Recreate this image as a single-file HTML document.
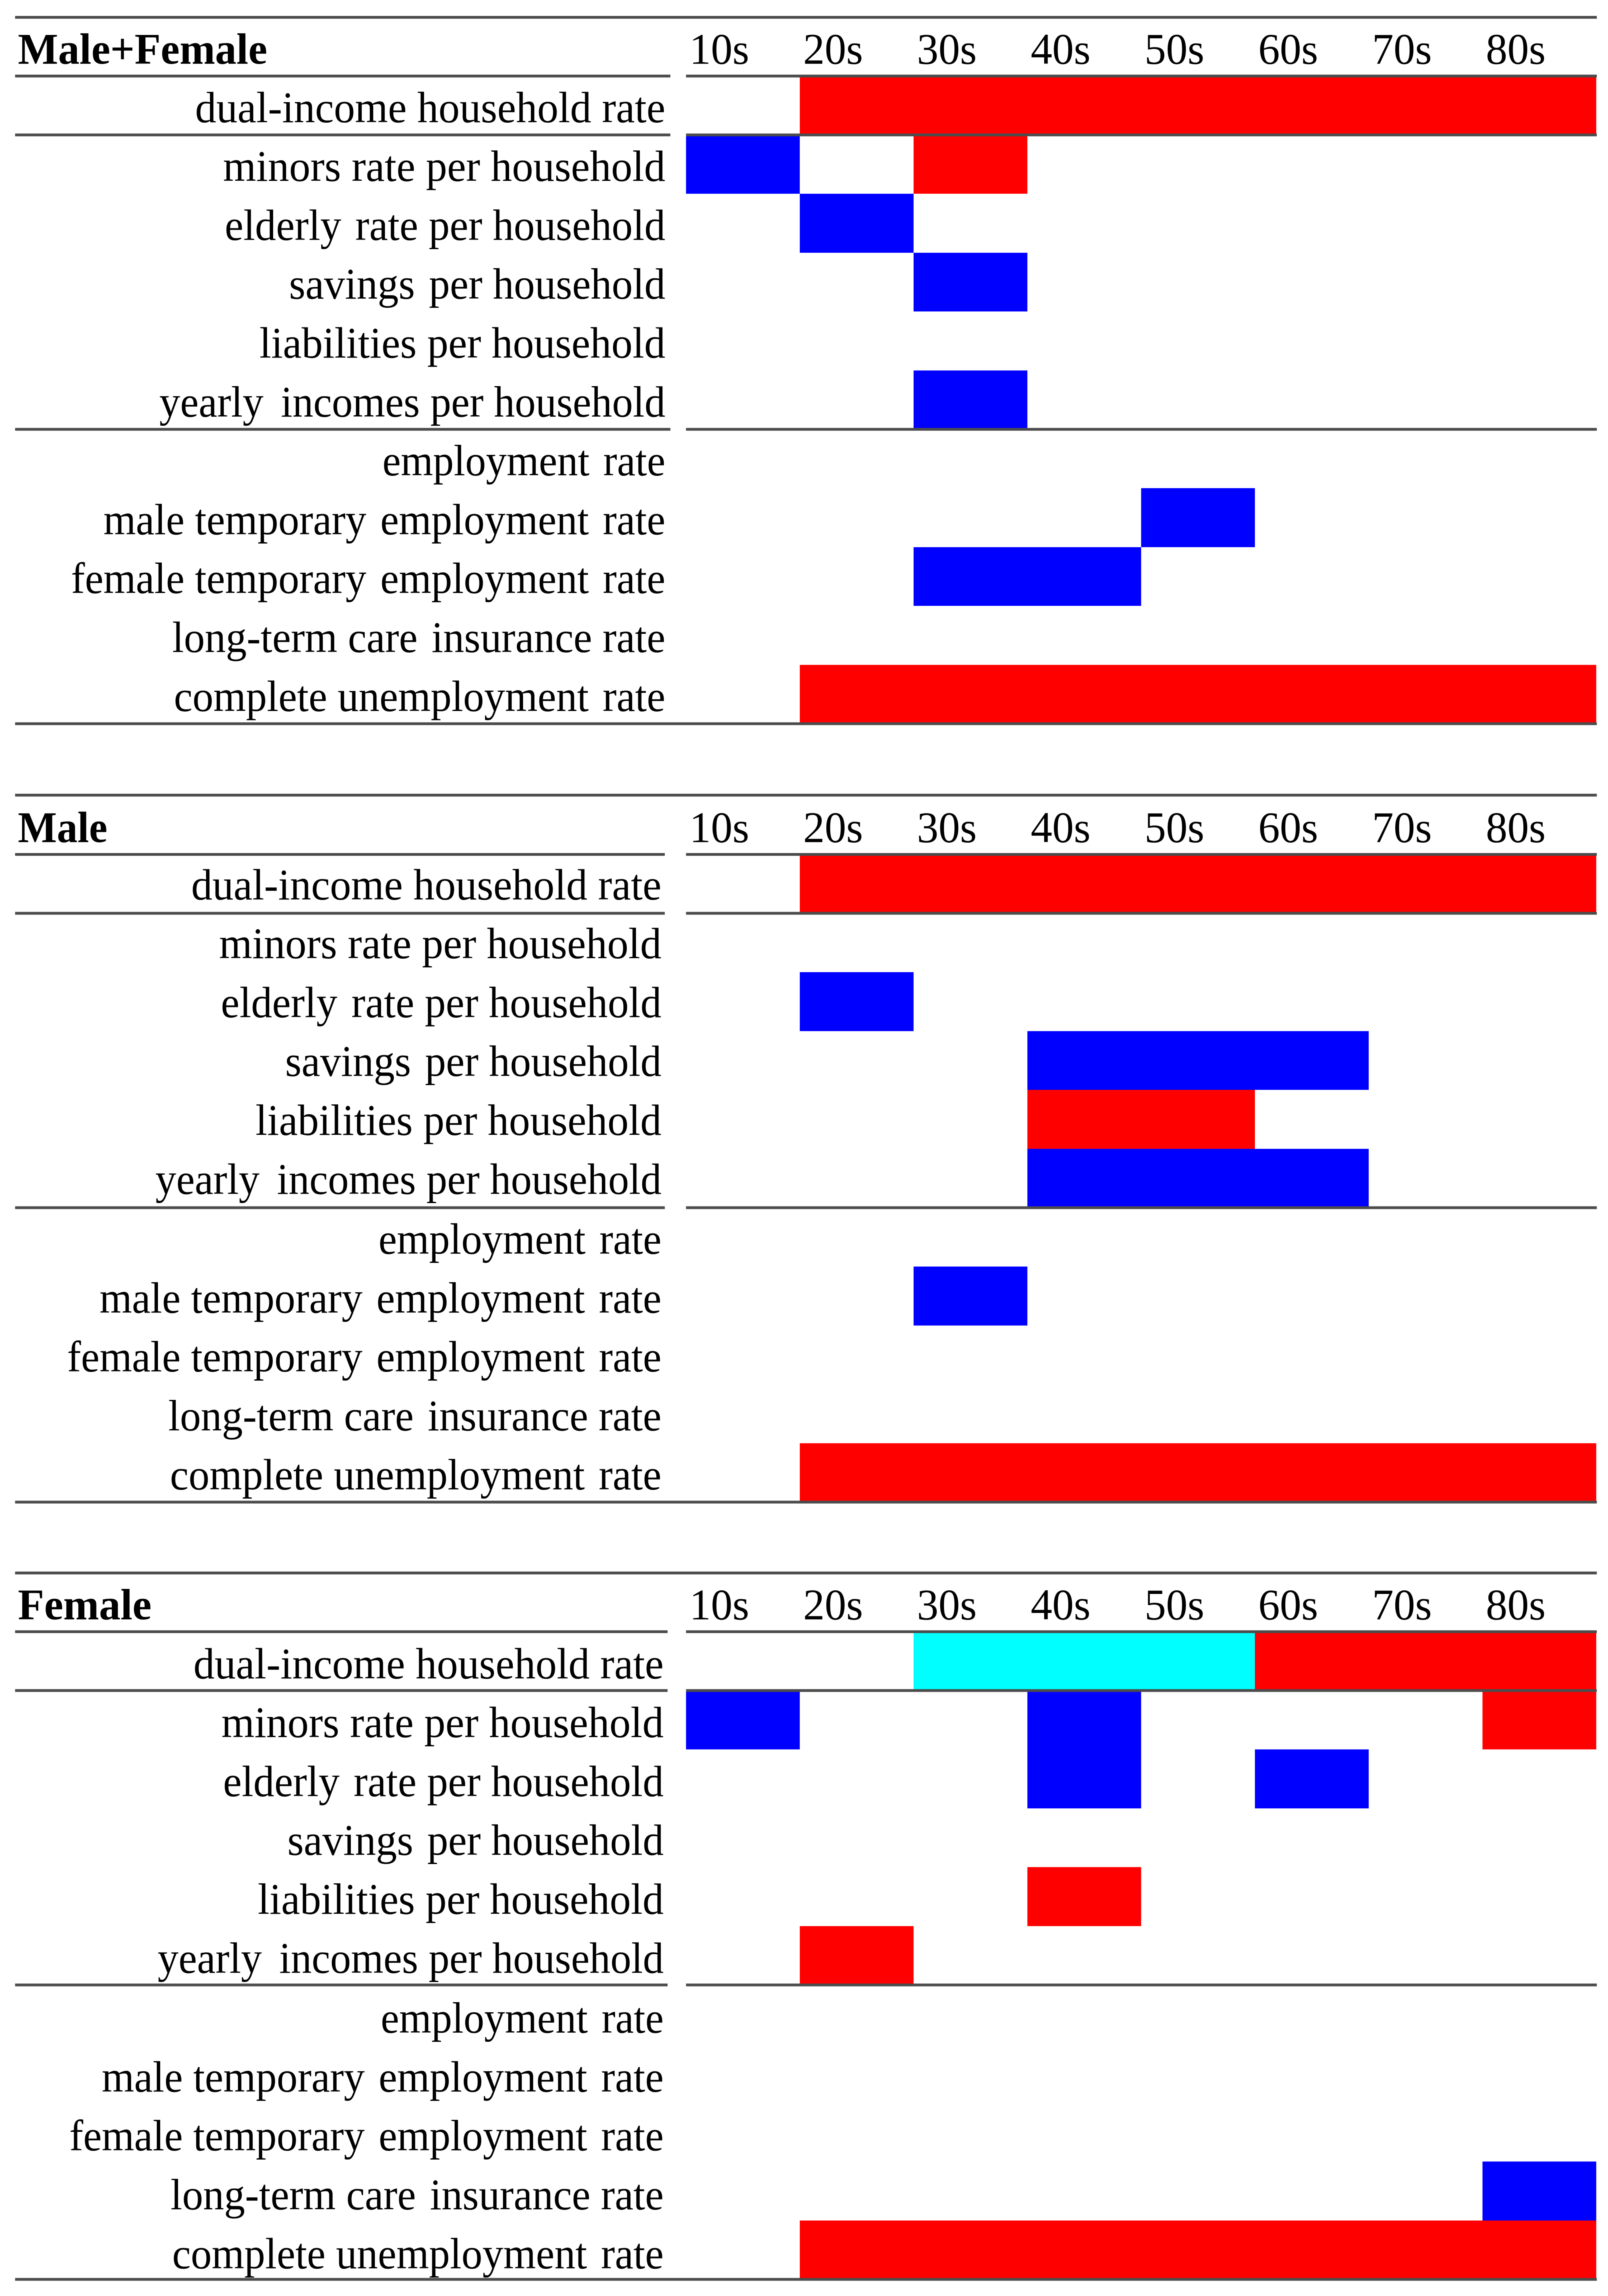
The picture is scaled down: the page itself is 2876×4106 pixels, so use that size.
<!DOCTYPE html>
<html lang="en">
<head>
<meta charset="utf-8">
<title>Significance by age group and indicator</title>
<style>
html,body{margin:0;padding:0;background:#fff;width:2876px;height:4106px;overflow:hidden}
svg{display:block;filter:blur(0.7px)}
text{font-family:"Liberation Serif","Times New Roman",serif;fill:#000;font-size:78px;white-space:pre}
.b{font-weight:bold}
</style>
</head>
<body>
<svg id="chart" xmlns="http://www.w3.org/2000/svg" width="2876" height="4106" viewBox="0 0 2876 4106"></svg>
<script>
const ageGroups = ["10s","20s","30s","40s","50s","60s","70s","80s"];
const indicators = [
  "dual-income household rate",
  "minors rate per household",
  "elderly\u200A rate per household",
  "savings\u200A per household",
  "liabilities per household",
  "yearly\u200A\u200A incomes per household",
  "employment\u200A rate",
  "male temporary\u200A employment\u200A rate",
  "female temporary\u200A employment\u200A rate",
  "long-term care\u200A insurance rate",
  "complete unemployment\u200A rate"
];
// cell codes: 0 = none, 1 = red, -1 = blue, 2 = cyan
const maleFemaleCells = [
  [0,1,1,1,1,1,1,1],
  [-1,0,1,0,0,0,0,0],
  [0,-1,0,0,0,0,0,0],
  [0,0,-1,0,0,0,0,0],
  [0,0,0,0,0,0,0,0],
  [0,0,-1,0,0,0,0,0],
  [0,0,0,0,0,0,0,0],
  [0,0,0,0,-1,0,0,0],
  [0,0,-1,-1,0,0,0,0],
  [0,0,0,0,0,0,0,0],
  [0,1,1,1,1,1,1,1]
];
const maleCells = [
  [0,1,1,1,1,1,1,1],
  [0,0,0,0,0,0,0,0],
  [0,-1,0,0,0,0,0,0],
  [0,0,0,-1,-1,-1,0,0],
  [0,0,0,1,1,0,0,0],
  [0,0,0,-1,-1,-1,0,0],
  [0,0,0,0,0,0,0,0],
  [0,0,-1,0,0,0,0,0],
  [0,0,0,0,0,0,0,0],
  [0,0,0,0,0,0,0,0],
  [0,1,1,1,1,1,1,1]
];
const femaleCells = [
  [0,0,2,2,2,1,1,1],
  [-1,0,0,-1,0,0,0,1],
  [0,0,0,-1,0,-1,0,0],
  [0,0,0,0,0,0,0,0],
  [0,0,0,1,0,0,0,0],
  [0,1,0,0,0,0,0,0],
  [0,0,0,0,0,0,0,0],
  [0,0,0,0,0,0,0,0],
  [0,0,0,0,0,0,0,0],
  [0,0,0,0,0,0,0,-1],
  [0,1,1,1,1,1,1,1]
];
const panelTitles = ["Male+Female","Male","Female"];
const panelCells = [maleFemaleCells, maleCells, femaleCells];

// layout constants (text fit and panel geometry)
const labelFit = [841,791,788,673,726,905,506,1005,1063,882,879];
const titleFit = [446,160,239];
const tickFit = 107;
const panelTop = [31, 1422, 2813];
const panelHead = [136, 1528, 2918];
const labelRight = [1190, 1183, 1187];
const ruleRight = [1199, 1189, 1194];
const labelShift = [-23, -25, -22];
const lowerShift = [0, 2, 2];
const leftX = 27, colX0 = 1227, colW = 203.5, rowH = 105.3;
const colors = {"1":"#ff0000","-1":"#0000ff","2":"#00ffff"};

const NS = "http://www.w3.org/2000/svg";
const svg = document.getElementById("chart");

function xScale(col){ return colX0 + col * colW; }
function yScale(panel,row){ return panelHead[panel] + row * rowH; }

function addRule(x1,x2,y,name,parent){
  const l = document.createElementNS(NS,"line");
  l.setAttribute("x1",x1);l.setAttribute("x2",x2);l.setAttribute("y1",y);l.setAttribute("y2",y);
  l.setAttribute("stroke","#4c4c4c");l.setAttribute("stroke-width","5");
  
  
  parent.appendChild(l);
}
function addText(str,x,y,anchor,cls,fit,name,parent){
  const t = document.createElementNS(NS,"text");
  t.setAttribute("x",x);t.setAttribute("y",y);t.setAttribute("text-anchor",anchor);
  if(cls) t.setAttribute("class",cls);
  t.setAttribute("textLength",fit);
  t.setAttribute("lengthAdjust","spacingAndGlyphs");
  t.textContent = str;
  
  
  parent.appendChild(t);
}

panelCells.forEach(function(cells,p){
  const g = document.createElementNS(NS,"g");
  
  
  svg.appendChild(g);

  cells.forEach(function(rowVals,r){
    rowVals.forEach(function(v,c){
      if(!v) return;
      const rect = document.createElementNS(NS,"rect");
      rect.setAttribute("x",xScale(c));
      rect.setAttribute("y",yScale(p,r));
      rect.setAttribute("width",colW);
      rect.setAttribute("height",rowH);
      rect.setAttribute("fill",colors[v]);
      rect.setAttribute("shape-rendering","crispEdges");
      
      
      g.appendChild(rect);
    });
  });

  addRule(leftX,2856,panelTop[p],"top-rule",g);
  [0,1,6].forEach(function(r){
    addRule(leftX,ruleRight[p],yScale(p,r),"row-rule-left",g);
    addRule(colX0,2856,yScale(p,r),"row-rule-right",g);
  });
  addRule(leftX,2856,yScale(p,11),"bottom-rule",g);

  addText(panelTitles[p],32,panelHead[p]-22,"start","b",titleFit[p],"panel-title",g);
  ageGroups.forEach(function(a,c){
    addText(a,xScale(c)+6,panelHead[p]-22,"start","",tickFit,"age-label-"+a,g);
  });
  indicators.forEach(function(lab,r){
    const extra = r >= 6 ? lowerShift[p] : 0;
    addText(lab,labelRight[p],yScale(p,r+1)+labelShift[p]+extra,"end","",labelFit[r],"indicator-label",g);
  });
});
</script>
</body>
</html>
